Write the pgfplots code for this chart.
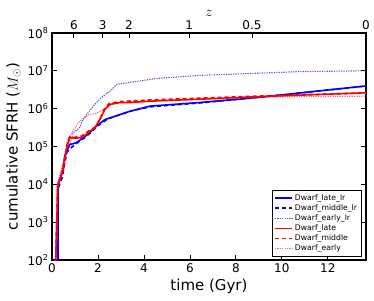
\documentclass[border=0pt]{standalone}
\usepackage{fontspec}
\setmainfont{DejaVu Sans}
\usepackage{pgfplots}
\pgfplotsset{compat=1.18}
\definecolor{mblue}{rgb}{0,0,1}
\definecolor{mred}{rgb}{1,0,0}
\begin{document}
\begin{tikzpicture}
\path (-52pt,-40pt) rectangle (322pt,260pt);
\begin{axis}[
  name=main,
  scale only axis, width=314pt, height=227pt,
  xmin=0, xmax=13.66,
  ymode=log, log basis y=10, ymin=1e2, ymax=1e8,
  ytickten={2,3,4,5,6,7,8},
  yticklabel={10\textsuperscript{\pgfmathparse{int(round(\tick))}\pgfmathresult}},
  xtick={0,2,4,6,8,10,12},
  xtick pos=bottom, ytick pos=both,
  tick align=inside,
  major tick length=5pt, minor tick length=2.5pt,
  every tick/.style={black, line width=0.8pt},
  axis line style={line width=1.6pt},
  /pgf/number format/assume math mode=true,
  tick label style={font=\fontsize{12}{14}\selectfont},
  xlabel={time (Gyr)},
  ylabel={cumulative SFRH ($M_\odot$)},
  label style={font=\fontsize{15}{18}\selectfont},
  legend style={at={(0.985,0.015)}, anchor=south east, font=\fontsize{7.7}{9}\selectfont, draw=black, line width=0.5pt, row sep=-1.2pt, inner sep=2pt},
  legend cell align=left,
]
\addplot[mblue, line width=1.6pt] coordinates {
(0.26,50) (0.27,1e4) (0.5,2.51e4) (0.55,5.5e4) (0.77,1.12e5) (1.06,1.26e5) (1.35,1.7e5) (1.64,2.29e5) (1.93,3.47e5) (2.3,5.13e5) (2.73,6.3e5) (3.38,8.5e5) (4.27,1.17e6) (6.4,1.45e6) (8.0,1.75e6) (9.5,2.14e6) (11.5,2.9e6) (13.66,3.98e6)};
\addlegendentry{Dwarf\_late\_lr}
\addplot[mblue, line width=1.6pt, dash pattern=on 4pt off 3pt] coordinates {
(0.26,50) (0.27,7.94e3) (0.4,1.26e4) (0.45,1.58e4) (0.55,3.55e4) (0.65,7.08e4) (0.8,8.9e4) (0.9,1.0e5) (1.1,1.26e5) (1.4,1.66e5) (1.7,2.4e5) (2.0,3.55e5) (2.4,5.25e5) (2.8,6.46e5) (3.5,8.9e5) (4.27,1.12e6) (6.4,1.41e6) (9.5,2.14e6) (13.66,3.98e6)};
\addlegendentry{Dwarf\_middle\_lr}
\addplot[mblue, line width=1.1pt, opacity=0.7, dash pattern=on 1.2pt off 1.2pt] coordinates {
(0.25,50) (0.26,1e4) (0.31,1.1e4) (0.53,4.47e4) (0.77,1.12e5) (0.92,2.29e5) (1.2,3.16e5) (1.35,5.13e5) (1.64,8.9e5) (1.79,1.17e6) (2.22,2.14e6) (2.6,3.16e6) (2.8,4.37e6) (4.55,6.3e6) (6.44,7.6e6) (9.5,8.9e6) (10.8,9.55e6) (13.66,1.0e7)};
\addlegendentry{Dwarf\_early\_lr}
\addplot[mred, line width=1.6pt] coordinates {
(0.15,50) (0.25,8.7e3) (0.48,2.45e4) (0.55,4.47e4) (0.65,1.0e5) (0.77,1.7e5) (1.06,1.66e5) (1.35,1.78e5) (1.64,2.51e5) (1.86,3.09e5) (2.08,5.13e5) (2.3,9.55e5) (2.51,1.29e6) (2.95,1.45e6) (3.38,1.45e6) (4.27,1.58e6) (6.4,1.78e6) (9.5,2.14e6) (13.66,2.63e6)};
\addlegendentry{Dwarf\_late}
\addplot[mred, line width=1.6pt, dash pattern=on 4pt off 3pt] coordinates {
(0.15,50) (0.25,9e3) (0.45,2.2e4) (0.55,5e4) (0.65,1.1e5) (0.77,1.8e5) (1.0,1.75e5) (1.3,1.9e5) (1.6,2.6e5) (1.9,3.3e5) (2.1,5.5e5) (2.3,1.05e6) (2.5,1.38e6) (3.0,1.55e6) (4.27,1.7e6) (6.4,1.9e6) (9.5,2.2e6) (13.66,2.6e6)};
\addlegendentry{Dwarf\_middle}
\addplot[mred, line width=1.1pt, opacity=0.6, dash pattern=on 1.2pt off 1.2pt] coordinates {
(0.14,50) (0.22,1e4) (0.5,4e4) (0.7,1.6e5) (0.9,2.5e5) (1.2,4.68e5) (1.64,7.08e5) (1.86,7.2e5) (2.3,1.0e6) (2.6,1.3e6) (3.0,1.45e6) (4.27,1.6e6) (6.4,1.75e6) (9.5,2.05e6) (13.66,2.14e6)};
\addlegendentry{Dwarf\_early}
\end{axis}
\begin{axis}[
  scale only axis, width=314pt, height=227pt,
  xmin=0, xmax=13.66, ymin=0, ymax=1,
  axis x line*=top, axis y line=none,
  xtick={0.95,2.2,3.35,5.97,8.7,13.66},
  xticklabels={6,3,2,1,0.5,0},
  tick align=inside, major tick length=5pt,
  every tick/.style={black, line width=0.8pt},
  axis line style={line width=1.6pt},
  tick label style={font=\fontsize{12}{14}\selectfont},
  xlabel={$z$}, label style={font=\fontsize{14}{16}\selectfont},
  xlabel style={yshift=-3pt},
]
\end{axis}
\end{tikzpicture}
\end{document}
